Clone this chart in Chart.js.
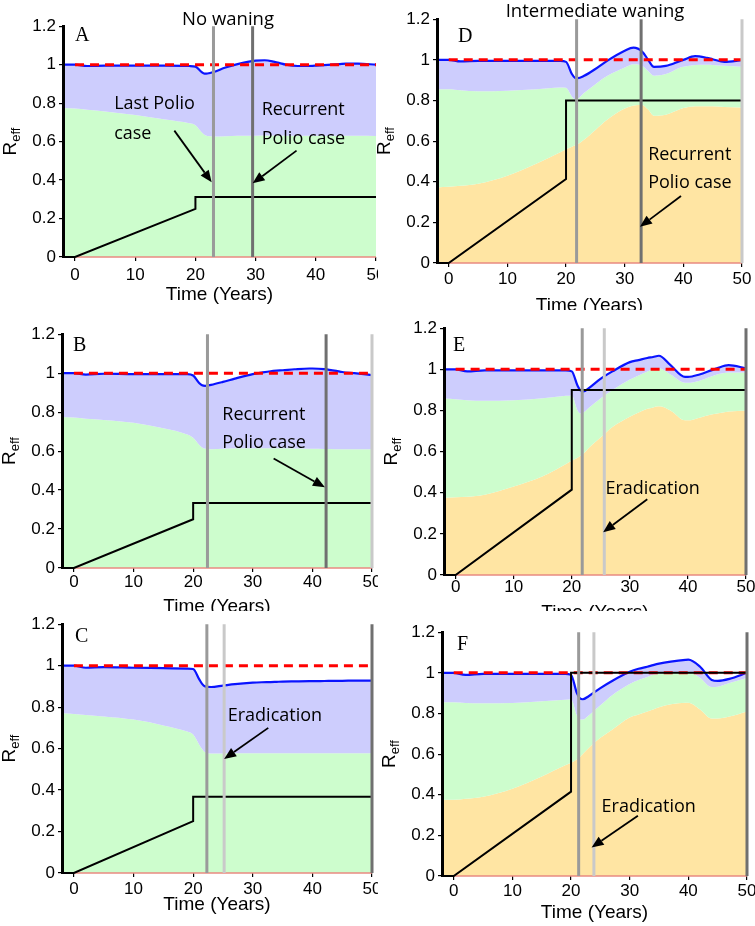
<!DOCTYPE html>
<html>
<head>
<meta charset="utf-8">
<script src="https://cdn.jsdelivr.net/npm/chart.js@4.4.1/dist/chart.umd.min.js"></script>
<style>
  body { margin:0; background:#fff; width:755px; height:926px; position:relative; overflow:hidden; }
  .clip { position:absolute; overflow:hidden; }
  .clip canvas { position:absolute; }
  .yline { position:absolute; width:3px; background:#000; }
  .head { position:absolute; font-family:'Open Sans', sans-serif; font-size:18.5px; line-height:20px; white-space:nowrap; transform:translateX(-50%); color:#000; }
</style>
</head>
<body>
<div id="stage"></div>
<div class="head" style="left:228px;top:8px">No waning</div>
<div class="head" style="left:595px;top:0px">Intermediate waning</div>
<script>
// shared time grid (years) for the model curves
const times = [-2, 0, 2, 5, 10, 15, 19, 20, 21, 21.5, 22, 23, 25, 27, 30, 31.5, 33, 34, 35, 37, 39.5, 40, 42, 44, 45, 47, 50];
const xTicks = [0, 10, 20, 30, 40, 50];
const yTicks = [0, 0.2, 0.4, 0.6, 0.8, 1, 1.2];

// no waning
const reffA  = [1.0,1.0,0.993,0.995,0.995,0.995,0.993,0.99,0.962,0.953,0.954,0.962,0.985,1.003,1.021,1.023,1.016,1.008,1.0,0.993,0.994,0.995,0.999,1.003,1.005,1.005,1.0];
const greenA = [0.775,0.772,0.766,0.757,0.738,0.715,0.695,0.685,0.65,0.635,0.629,0.627,0.628,0.63,0.631,0.632,0.632,0.632,0.631,0.631,0.63,0.63,0.63,0.63,0.63,0.63,0.629];
const reffB  = [1.0,1.0,0.993,0.997,0.995,0.995,0.995,0.988,0.95,0.938,0.935,0.94,0.955,0.972,0.995,1.003,1.01,1.013,1.015,1.02,1.024,1.024,1.021,1.012,1.006,1.0,0.99];
const greenB = [0.775,0.772,0.766,0.76,0.745,0.717,0.685,0.668,0.632,0.618,0.612,0.61,0.612,0.614,0.615,0.615,0.615,0.615,0.614,0.613,0.612,0.612,0.611,0.61,0.61,0.61,0.61];
const reffC  = [1.0,1.0,0.99,0.993,0.99,0.988,0.986,0.984,0.935,0.912,0.9,0.897,0.904,0.911,0.918,0.92,0.921,0.922,0.923,0.924,0.925,0.925,0.926,0.927,0.927,0.928,0.928];
const greenC = [0.77,0.767,0.762,0.755,0.74,0.712,0.682,0.668,0.62,0.598,0.582,0.576,0.576,0.577,0.577,0.578,0.578,0.578,0.578,0.578,0.578,0.578,0.578,0.578,0.578,0.578,0.578];

// intermediate waning
const reffD   = [1.0,1.0,0.992,0.995,0.995,0.995,0.995,0.99,0.93,0.912,0.91,0.92,0.955,0.995,1.045,1.06,1.04,1.0,0.965,0.97,0.995,1.0,1.018,1.01,1.003,0.99,0.998];
const greenD  = [0.855,0.855,0.85,0.845,0.848,0.855,0.864,0.862,0.82,0.806,0.808,0.835,0.88,0.92,0.962,0.978,0.97,0.945,0.922,0.93,0.962,0.966,0.975,0.976,0.975,0.971,0.966];
const orangeD = [0.372,0.375,0.38,0.39,0.43,0.49,0.545,0.56,0.572,0.578,0.585,0.605,0.655,0.705,0.76,0.775,0.778,0.755,0.725,0.73,0.758,0.763,0.772,0.772,0.771,0.768,0.765];
const reffE   = [1.0,1.0,0.99,0.995,0.995,0.995,0.995,0.99,0.92,0.897,0.893,0.91,0.955,0.99,1.035,1.045,1.055,1.06,1.066,1.02,0.963,0.963,0.975,0.995,1.005,1.02,1.005];
const greenE  = [0.858,0.855,0.85,0.847,0.85,0.86,0.871,0.873,0.8,0.785,0.79,0.815,0.86,0.9,0.95,0.97,0.99,1.0,1.005,0.975,0.935,0.935,0.945,0.965,0.975,0.985,0.985];
const orangeE = [0.376,0.378,0.38,0.39,0.43,0.48,0.54,0.555,0.57,0.58,0.59,0.62,0.67,0.72,0.77,0.79,0.808,0.815,0.82,0.8,0.752,0.752,0.765,0.78,0.785,0.795,0.8];
const reffF   = [1.0,1.0,0.99,0.995,0.995,0.995,0.995,0.99,0.9,0.875,0.87,0.885,0.925,0.96,1.005,1.02,1.03,1.038,1.045,1.055,1.064,1.065,1.03,0.965,0.96,0.97,1.0];
const greenF  = [0.855,0.855,0.852,0.85,0.852,0.86,0.868,0.87,0.79,0.77,0.77,0.79,0.84,0.89,0.945,0.965,0.98,0.99,0.995,1.0,1.005,1.005,0.975,0.93,0.932,0.95,0.975];
const orangeF = [0.375,0.375,0.38,0.39,0.43,0.49,0.545,0.557,0.575,0.585,0.6,0.63,0.68,0.72,0.78,0.795,0.81,0.82,0.83,0.845,0.853,0.853,0.82,0.775,0.775,0.785,0.81];

// vaccination coverage (black step line)
const coverT = [-2, 0, 20, 20, 50];
const coverA = [0, 0, 0.25, 0.312, 0.312];
const coverB = [0, 0, 0.25, 0.333, 0.333];
const coverC = [0, 0, 0.25, 0.368, 0.368];
const coverD = [0, 0, 0.413, 0.8, 0.8];
const coverE = [0, 0, 0.415, 0.9, 0.9];
const coverF = [0, 0, 0.415, 1.0, 1.0];

// threshold R=1 and the tiny bottom compartment
const threshT = [0, 50];
const threshV = [1, 1];
const floorV = [0, 0];

// event markers (years)
const vlineA = [23, 29.5],       vshadeA = ['mid', 'dark'];
const vlineB = [22.4, 42.3, 50], vshadeB = ['mid', 'dark', 'light'];
const vlineC = [22.3, 25.2, 50], vshadeC = ['mid', 'light', 'dark'];
const vlineD = [21.8, 32.8, 50], vshadeD = ['mid', 'dark', 'light'];
const vlineE = [21.8, 25.6, 50], vshadeE = ['mid', 'light', 'dark'];
const vlineF = [21.3, 23.9, 50], vshadeF = ['mid', 'light', 'dark'];

// annotations: [text, year, value] and arrows [fromX, fromY, toX, toY]
const notesA = [['Last Polio', 6.5, 0.797], ['case', 6.5, 0.64], ['Recurrent', 31, 0.766], ['Polio case', 31, 0.616]];
const arrowsA = [[16.5, 0.657, 22.7, 0.388], [36.8, 0.553, 29.5, 0.383]];
const notesB = [['Recurrent', 24.9, 0.786], ['Polio case', 24.9, 0.64]];
const arrowsB = [[33.5, 0.562, 42.1, 0.414]];
const notesC = [['Eradication', 25.8, 0.756]];
const arrowsC = [[32.6, 0.70, 25.2, 0.55]];
const notesD = [['Recurrent', 34, 0.531], ['Polio case', 34, 0.394]];
const arrowsD = [[39.6, 0.33, 32.6, 0.178]];
const notesE = [['Eradication', 25.8, 0.42]];
const arrowsE = [[33, 0.368, 25.4, 0.208]];
const notesF = [['Eradication', 25.2, 0.34]];
const arrowsF = [[31.4, 0.297, 23.5, 0.14]];

const ORANGE = '#ffe5a3', GREEN = '#cdfdcd', LAV = '#cdcdfd', BLUE = '#0a14ff';
const SHADES = { mid: '#9a9a9a', light: '#c9c9c9', dark: '#707070' };

// layout: clip box and target plot area in page pixels
const panels = [
  { key:'A', clip:[0,0,378,310],     plot:[63,25,376,257],  orange:null,    green:greenA, reff:reffA, cover:coverA, vx:vlineA, vs:vshadeA, notes:notesA, arrows:arrowsA, xPad:4,  titleGap:38, letter:[12,10] },
  { key:'B', clip:[0,310,378,611],   plot:[62,333,372,568], orange:null,    green:greenB, reff:reffB, cover:coverB, vx:vlineB, vs:vshadeB, notes:notesB, arrows:arrowsB, xPad:0,  titleGap:39, letter:[11,12] },
  { key:'C', clip:[0,611,378,926],   plot:[62,623,372,873], orange:null,    green:greenC, reff:reffC, cover:coverC, vx:vlineC, vs:vshadeC, notes:notesC, arrows:arrowsC, xPad:2,  titleGap:32, letter:[13,13] },
  { key:'D', clip:[372,0,755,310],   plot:[437,18,742,263], orange:orangeD, green:greenD, reff:reffD, cover:coverD, vx:vlineD, vs:vshadeD, notes:notesD, arrows:arrowsD, xPad:2,  titleGap:43, letter:[21,18] },
  { key:'E', clip:[372,310,755,611], plot:[444,327,746,575],orange:orangeE, green:greenE, reff:reffE, cover:coverE, vx:vlineE, vs:vshadeE, notes:notesE, arrows:arrowsE, xPad:-2, titleGap:38, letter:[9,18] },
  { key:'F', clip:[372,611,755,926], plot:[442,631,747,876],orange:orangeF, green:greenF, reff:reffF, cover:coverF, vx:vlineF, vs:vshadeF, notes:notesF, arrows:arrowsF, xPad:1,  titleGap:37, letter:[15,13] },
];

const PAD = { left: 20, top: 12, right: 20, bottom: 30 };
const Y_W = 45, X_H = 30;

function pts(xs, ys) { return xs.map((x, i) => ({ x, y: ys[i] })); }

function arrow(ctx, x1, y1, x2, y2) {
  const a = Math.atan2(y2 - y1, x2 - x1), L = 12, w = 5;
  const bx = x2 - L * Math.cos(a), by = y2 - L * Math.sin(a);
  ctx.beginPath(); ctx.moveTo(x1, y1); ctx.lineTo(bx, by);
  ctx.lineWidth = 1.8; ctx.stroke();
  ctx.beginPath(); ctx.moveTo(x2, y2);
  ctx.lineTo(bx + w * Math.sin(a), by - w * Math.cos(a));
  ctx.lineTo(bx - w * Math.sin(a), by + w * Math.cos(a));
  ctx.closePath(); ctx.fill();
}

function extras(p) {
  return {
    id: 'extras' + p.key,
    afterDraw(chart) {
      const { ctx, chartArea: a, scales: { x, y } } = chart;
      ctx.save();
      ctx.fillStyle = '#000'; ctx.strokeStyle = '#000';

      ctx.textBaseline = 'middle'; ctx.textAlign = 'left';
      ctx.font = '20px "Liberation Serif", serif';
      ctx.fillText(p.key, a.left + p.letter[0], a.top + p.letter[1]);

      ctx.font = '18px "Open Sans", sans-serif';
      p.notes.forEach(([t, tx, ty]) => ctx.fillText(t, x.getPixelForValue(tx), y.getPixelForValue(ty)));
      p.arrows.forEach(([x1, y1, x2, y2]) =>
        arrow(ctx, x.getPixelForValue(x1), y.getPixelForValue(y1), x.getPixelForValue(x2), y.getPixelForValue(y2)));

      ctx.font = '19px "Liberation Sans", Arial, sans-serif';
      ctx.textAlign = 'center';
      ctx.fillText('Time (Years)', (a.left + a.right) / 2, a.bottom + p.titleGap);

      // R_eff, rotated
      ctx.translate(a.left - 47, (a.top + a.bottom) / 2);
      ctx.rotate(-Math.PI / 2);
      ctx.textAlign = 'left'; ctx.textBaseline = 'alphabetic';
      ctx.font = '19px "Liberation Sans", Arial, sans-serif';
      const wR = ctx.measureText('R').width;
      ctx.font = '13px "Liberation Sans", Arial, sans-serif';
      const wE = ctx.measureText('eff').width;
      const x0 = -(wR + wE) / 2;
      ctx.font = '19px "Liberation Sans", Arial, sans-serif';
      ctx.fillText('R', x0, 0);
      ctx.font = '13px "Liberation Sans", Arial, sans-serif';
      ctx.fillText('eff', x0 + wR, 4);
      ctx.restore();
    }
  };
}

const stage = document.getElementById('stage');

panels.forEach(p => {
  const [cx0, cy0, cx1, cy1] = p.clip;
  const [L, T, R, B] = p.plot;
  const clip = document.createElement('div');
  clip.className = 'clip';
  Object.assign(clip.style, { left: cx0 + 'px', top: cy0 + 'px', width: (cx1 - cx0) + 'px', height: (cy1 - cy0) + 'px' });
  const cv = document.createElement('canvas');
  const w = (R - L) + PAD.left + Y_W + PAD.right;
  const h = (B - T) + PAD.top + X_H + PAD.bottom;
  cv.width = w; cv.height = h;
  cv.style.width = w + 'px'; cv.style.height = h + 'px';
  cv.style.left = (L - PAD.left - Y_W - cx0) + 'px';
  cv.style.top = (T - PAD.top - cy0) + 'px';
  clip.appendChild(cv);

  // y axis spine, laid over the filled areas
  const spine = document.createElement('div');
  spine.className = 'yline';
  Object.assign(spine.style, { left: (L - cx0 - 1.5) + 'px', top: (T - cy0) + 'px', height: (B - T + 1) + 'px' });
  clip.appendChild(spine);
  stage.appendChild(clip);

  const curve = { pointRadius: 0, tension: 0.4, cubicInterpolationMode: 'monotone', clip: 4 };
  const ds = [];
  if (p.orange) ds.push({ ...curve, data: pts(times, p.orange), fill: 'origin', backgroundColor: ORANGE, borderWidth: 0, order: 10 });
  ds.push({ ...curve, data: pts(times, p.green), fill: p.orange ? '-1' : 'origin', backgroundColor: GREEN, borderWidth: 0, order: 9 });
  ds.push({ ...curve, data: pts(times, p.reff), fill: '-1', backgroundColor: LAV, borderColor: BLUE, borderWidth: 2.2, order: 5 });
  ds.push({ data: pts(threshT, floorV), pointRadius: 0, borderColor: '#e88a80', borderWidth: 1.5, fill: false, order: 6, clip: 4 });
  ds.push({ data: pts(threshT, threshV), pointRadius: 0, borderColor: '#ff0000', borderWidth: 3, borderDash: [9, 6], fill: false, order: 3, clip: 4 });
  ds.push({ data: pts(coverT, p.cover), pointRadius: 0, borderColor: '#000', borderWidth: 2, tension: 0, fill: false, order: 2, clip: 4 });
  p.vx.forEach((vx, i) => {
    ds.push({ data: pts([vx, vx], [0, 1.2]), pointRadius: 0, borderColor: SHADES[p.vs[i]], borderWidth: 3, fill: false, order: 1, clip: 4 });
  });

  const tickFont = { family: '"Liberation Sans", Arial, sans-serif', size: 17 };
  new Chart(cv, {
    type: 'line',
    data: { datasets: ds },
    options: {
      responsive: false, maintainAspectRatio: false, animation: false, events: [],
      layout: { padding: PAD },
      plugins: { legend: { display: false }, tooltip: { enabled: false }, filler: { drawTime: 'beforeDatasetsDraw' } },
      scales: {
        x: {
          type: 'linear', min: -2, max: 50,
          afterBuildTicks: s => { s.ticks = xTicks.map(v => ({ value: v })); },
          afterFit: s => { s.height = X_H; },
          grid: { drawOnChartArea: false, drawTicks: true, tickLength: 4, color: '#000', lineWidth: 1.2 },
          border: { display: false },
          ticks: { color: '#000', font: tickFont, padding: p.xPad, maxRotation: 0, autoSkip: false }
        },
        y: {
          type: 'linear', min: 0, max: 1.2,
          afterBuildTicks: s => { s.ticks = yTicks.map(v => ({ value: v })); },
          afterFit: s => { s.width = Y_W; },
          grid: { drawOnChartArea: false, drawTicks: true, tickLength: 4, color: '#000', lineWidth: 1.2 },
          border: { display: false },
          ticks: { color: '#000', font: tickFont, padding: 3, callback: v => String(Math.round(v * 10) / 10) }
        }
      }
    },
    plugins: [extras(p)]
  });
});
</script>
</body>
</html>
